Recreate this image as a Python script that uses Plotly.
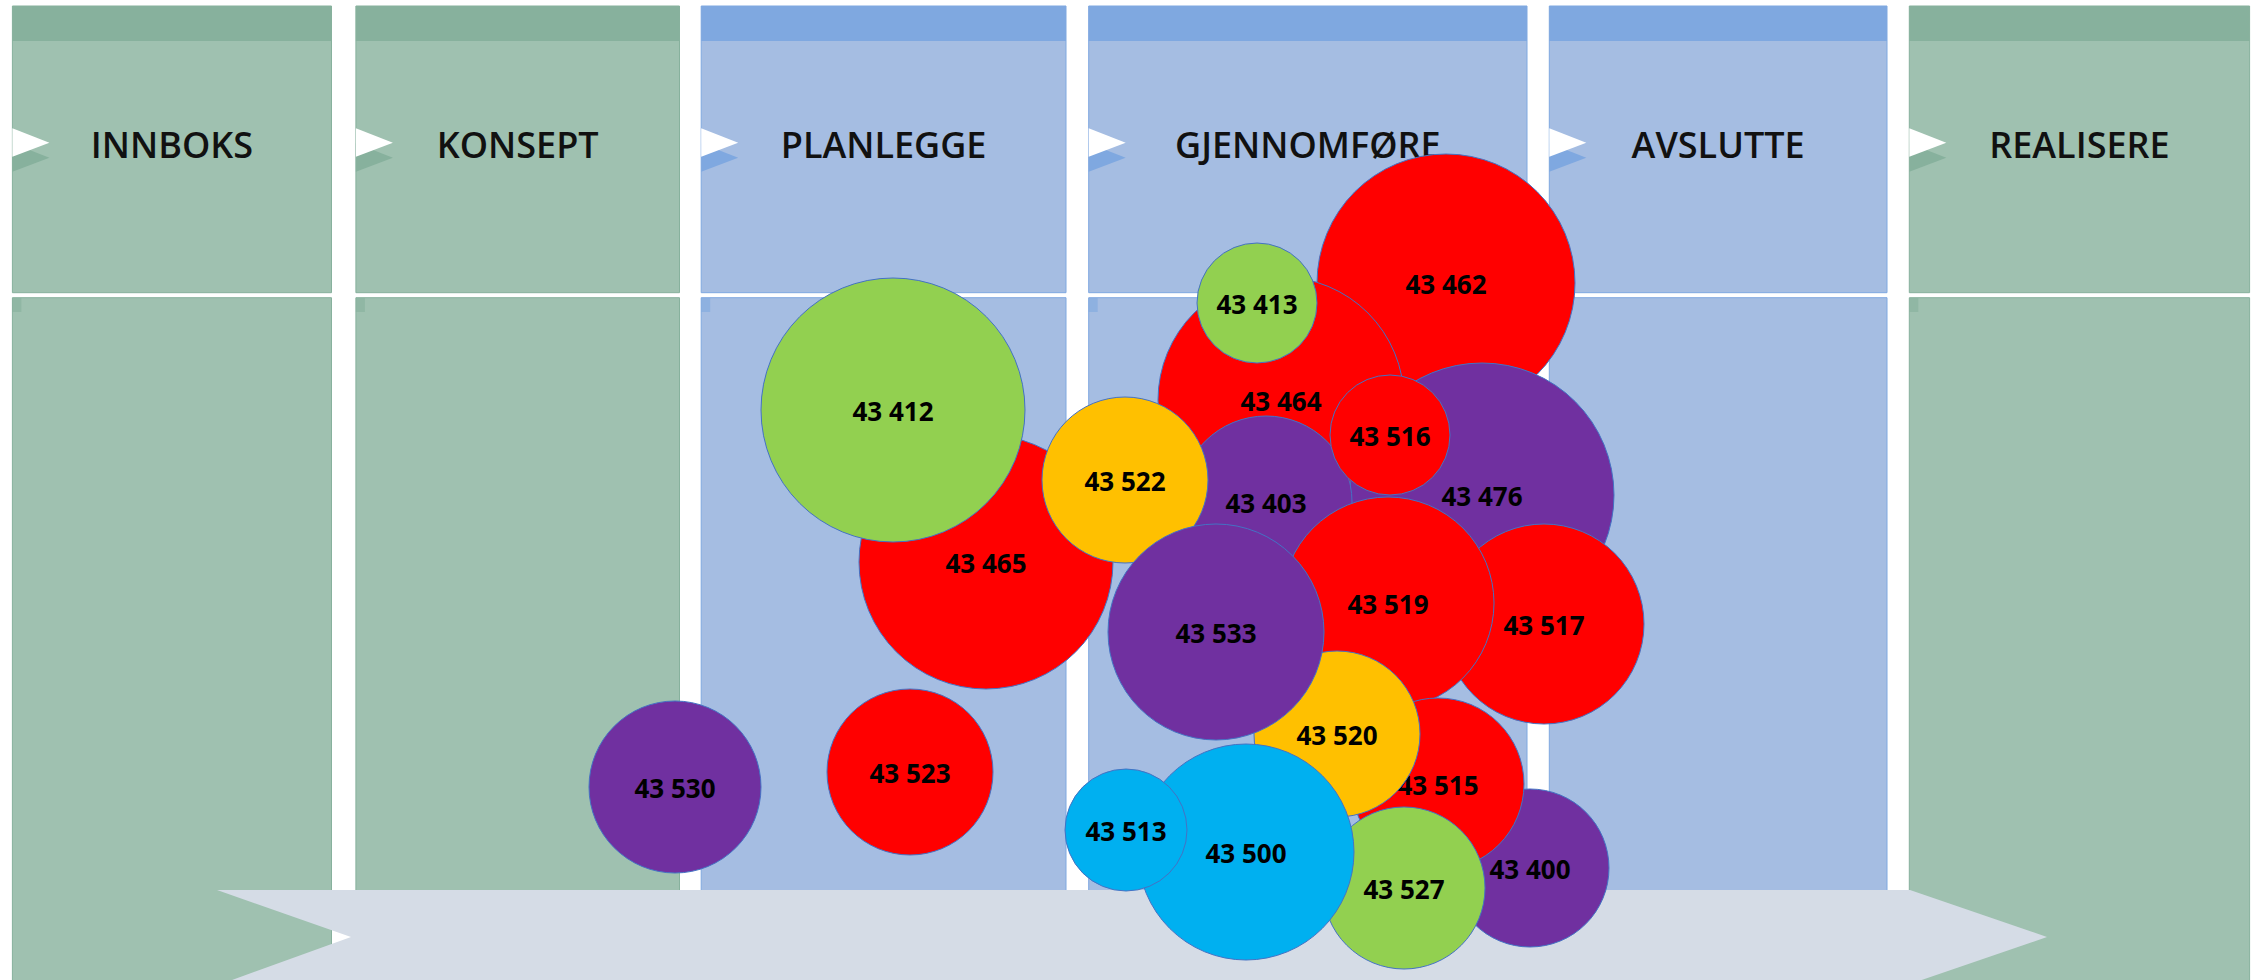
import plotly.graph_objects as go

# ---------------- data ----------------
phases = ["INNBOKS", "KONSEPT", "PLANLEGGE", "GJENNOMFØRE", "AVSLUTTE", "REALISERE"]
phase_group = ["green", "green", "blue", "blue", "blue", "green"]

# bubbles, listed back-to-front
bubble_ids = ["43 462", "43 464", "43 413", "43 476", "43 403", "43 516", "43 465",
              "43 412", "43 522", "43 517", "43 519", "43 400", "43 515", "43 520",
              "43 533", "43 527", "43 500", "43 513", "43 530", "43 523"]
bubble_x = [1446, 1281, 1257, 1482, 1266, 1390, 986, 893, 1125, 1544, 1388, 1530,
            1438, 1337, 1216, 1404, 1246, 1126, 675, 910]
bubble_y = [283, 400, 303, 495, 502, 435, 562, 410, 480, 624, 603, 868, 784, 734,
            632, 888, 852, 830, 787, 772]
bubble_size = [258, 246, 120, 264, 172, 120, 254, 264, 166, 200, 212, 158, 172, 166,
               216, 162, 216, 122, 172, 166]
bubble_status = ["red", "red", "green", "purple", "purple", "red", "red", "green",
                 "orange", "red", "red", "purple", "red", "orange", "purple", "green",
                 "cyan", "cyan", "purple", "red"]

# ---------------- styles ----------------
W, H = 2257, 980
LABEL_DROP = 4  # px nudge so labels sit optically centred
status_color = {"red": "#FF0000", "green": "#92D050", "orange": "#FFC000",
                "purple": "#7030A0", "cyan": "#00B0F0"}
body_color = {"green": "#9FC1B0", "blue": "#A5BDE2"}
band_color = {"green": "#87B19D", "blue": "#7FA8E0"}
col_left = [12.4, 355.9, 701.2, 1088.7, 1549.3, 1909.3]
col_right = [331.5, 679.5, 1066.0, 1527.0, 1887.0, 2249.6]

shapes = []
for i, g in enumerate(phase_group):
    L, R = col_left[i], col_right[i]
    shapes.append(dict(type="rect", x0=L, x1=R, y0=6, y1=292.7, layer="below",
                       fillcolor=body_color[g], line=dict(width=1, color=band_color[g])))
    shapes.append(dict(type="rect", x0=L, x1=R, y0=6, y1=41, layer="below",
                       fillcolor=band_color[g], line=dict(width=0)))
    shapes.append(dict(type="rect", x0=L, x1=R, y0=297.7, y1=990, layer="below",
                       fillcolor=body_color[g], line=dict(width=1, color=band_color[g])))
    shapes.append(dict(type="rect", x0=L, x1=L + 9, y0=298, y1=312, layer="below",
                       fillcolor=band_color[g], opacity=0.6, line=dict(width=0)))
    shapes.append(dict(type="path", layer="below",
                       path=f"M {L},143.3 L {L+37},157.7 L {L},171.7 Z",
                       fillcolor=band_color[g], line=dict(width=0)))
    shapes.append(dict(type="path", layer="below",
                       path=f"M {L},128.3 L {L+37},142.7 L {L},156.7 Z",
                       fillcolor="#FFFFFF", line=dict(width=0)))

shapes.append(dict(type="path", layer="below",
                   path="M 217,890 L 1910,890 L 2047,937 L 1910,984 L 221,984 L 351,937 Z",
                   fillcolor="#D5DCE6", line=dict(width=0)))

fig = go.Figure()

fig.add_trace(go.Scatter(
    x=[(col_left[i] + col_right[i]) / 2 for i in range(len(phases))],
    y=[149] * len(phases),
    mode="text", text=phases, textposition="middle center",
    textfont=dict(family="Open Sans", size=36, color="#111111", weight=600),
    hoverinfo="skip", showlegend=False))

for i in range(len(bubble_ids)):
    fig.add_trace(go.Scatter(
        x=[bubble_x[i]], y=[bubble_y[i]], mode="markers",
        marker=dict(size=bubble_size[i], sizemode="diameter",
                    color=status_color[bubble_status[i]],
                    line=dict(width=1, color="#4472C4"), opacity=1),
        hoverinfo="skip", showlegend=False, cliponaxis=False))
    fig.add_trace(go.Scatter(
        x=[bubble_x[i]], y=[bubble_y[i] + LABEL_DROP], mode="text",
        text=[bubble_ids[i]], textposition="middle center",
        textfont=dict(family="Open Sans", size=26, color="#000000", weight=700),
        hoverinfo="skip", showlegend=False, cliponaxis=False))

fig.update_layout(
    width=W, height=H, autosize=False,
    margin=dict(l=0, r=0, t=0, b=0, pad=0),
    paper_bgcolor="#FFFFFF", plot_bgcolor="#FFFFFF",
    xaxis=dict(range=[0, W], visible=False, fixedrange=True),
    yaxis=dict(range=[H, 0], visible=False, fixedrange=True),
    shapes=shapes, showlegend=False)

fig.write_html("out.html", config={"displayModeBar": False},
               post_script="document.body.style.margin='0';document.body.style.padding='0';")
